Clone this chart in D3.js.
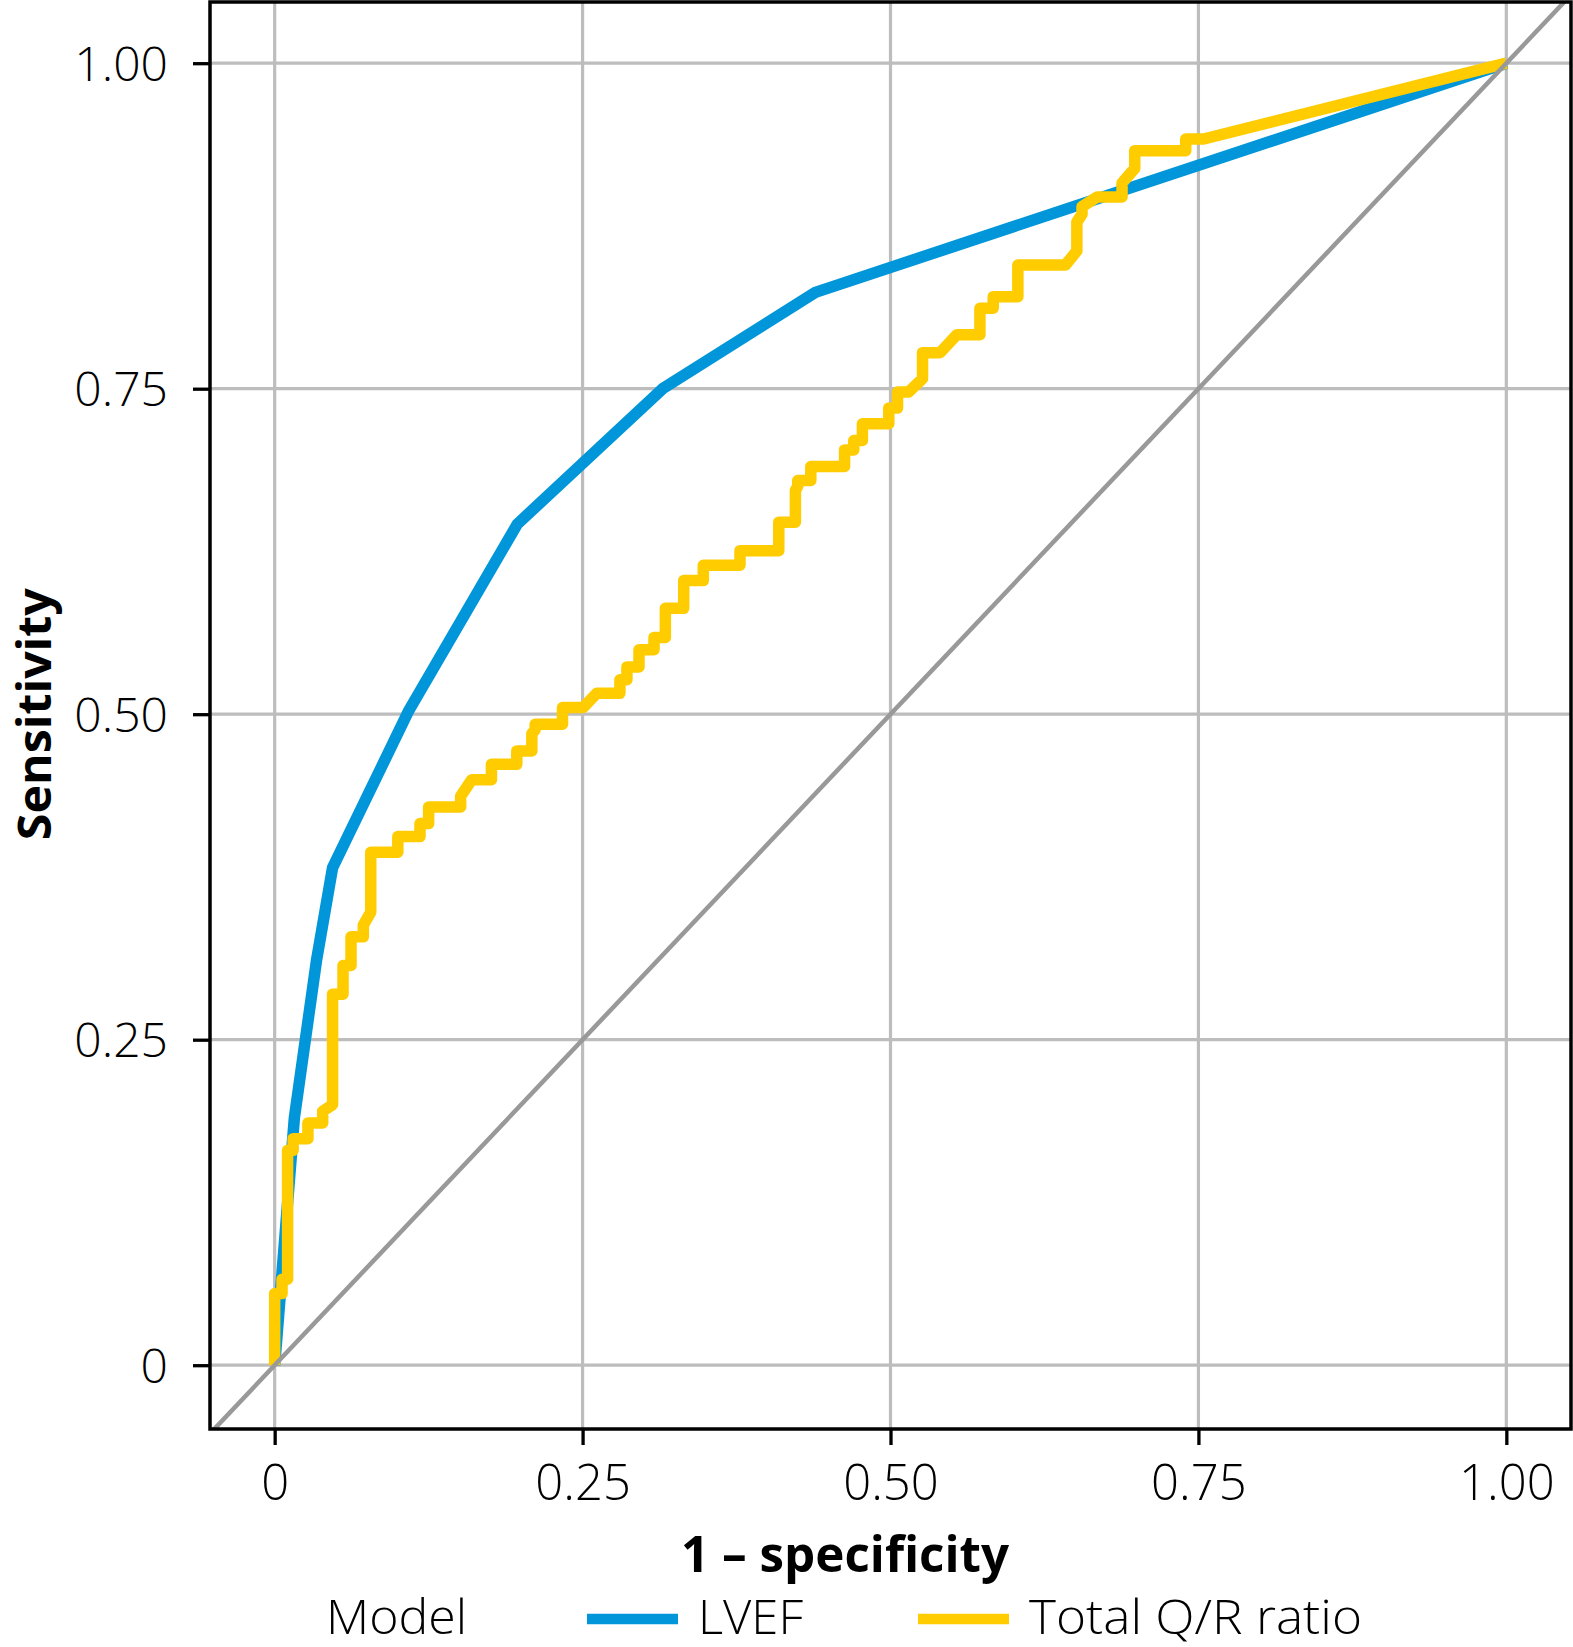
<!DOCTYPE html>
<html>
<head>
<meta charset="utf-8">
<script src="https://cdn.jsdelivr.net/npm/d3@7"></script>
<style>
  html, body { margin: 0; padding: 0; background: #ffffff; }
  svg { display: block; }
</style>
</head>
<body>
<svg id="chart" width="1573" height="1647"></svg>
<script>
// ---------------- DATA ----------------
const xTickValues = [0, 0.25, 0.5, 0.75, 1];
const xTickLabels = ["0", "0.25", "0.50", "0.75", "1.00"];
const yTickValues = [0, 0.25, 0.5, 0.75, 1];
const yTickLabels = ["0", "0.25", "0.50", "0.75", "1.00"];

const xTitle = "1 \u2013 specificity";
const yTitle = "Sensitivity";
const legendTitle = "Model";
const modelNames = ["LVEF", "Total Q/R ratio"];
const modelColors = ["#0096d9", "#ffcc00"];

// LVEF ROC curve (1 - specificity, sensitivity)
const lvefFpr = [0, 0.016, 0.034, 0.047, 0.109, 0.197, 0.315, 0.439, 1];
const lvefTpr = [0, 0.190, 0.311, 0.382, 0.503, 0.646, 0.750, 0.824, 1];

// Total Q/R ratio ROC curve (1 - specificity, sensitivity)
const qrFpr = [
  0, 0, 0.006, 0.006, 0.0105, 0.0105, 0.015, 0.015, 0.027, 0.027,
  0.039, 0.039, 0.047, 0.047, 0.0555, 0.0555, 0.062, 0.062, 0.072, 0.072,
  0.078, 0.078, 0.100, 0.100, 0.118, 0.118, 0.125, 0.125, 0.151, 0.151,
  0.160, 0.176, 0.176, 0.1966, 0.1966, 0.2088, 0.2088, 0.2115, 0.2115, 0.2337,
  0.2337, 0.2505, 0.2614, 0.2803, 0.2803, 0.286, 0.286, 0.2958, 0.2958, 0.308,
  0.308, 0.3172, 0.3172, 0.3321, 0.3321, 0.348, 0.348, 0.3778, 0.3778, 0.4093,
  0.4093, 0.4228, 0.4228, 0.4247, 0.4247, 0.4353, 0.4353, 0.4627, 0.4627, 0.4702,
  0.4702, 0.4772, 0.4772, 0.4986, 0.4986, 0.5057, 0.5057, 0.5146, 0.526, 0.526,
  0.5403, 0.5539, 0.5726, 0.5726, 0.5834, 0.5834, 0.6034, 0.6034, 0.642, 0.6513,
  0.6513, 0.6555, 0.6555, 0.6677, 0.688, 0.688, 0.6983, 0.6983, 0.7397, 0.7397,
  0.7543, 1
];
const qrTpr = [
  0, 0.055, 0.055, 0.066, 0.066, 0.165, 0.165, 0.174, 0.174, 0.186,
  0.186, 0.195, 0.200, 0.285, 0.285, 0.307, 0.307, 0.329, 0.329, 0.338,
  0.348, 0.394, 0.394, 0.406, 0.406, 0.416, 0.416, 0.4287, 0.4287, 0.437,
  0.4497, 0.4497, 0.4615, 0.4615, 0.4718, 0.4718, 0.485, 0.488, 0.4923, 0.4923,
  0.5051, 0.5051, 0.516, 0.516, 0.5265, 0.5265, 0.5363, 0.5363, 0.5495, 0.5495,
  0.559, 0.559, 0.5813, 0.5813, 0.6026, 0.6026, 0.6144, 0.6144, 0.6256, 0.6256,
  0.6475, 0.6475, 0.672, 0.675, 0.6795, 0.6795, 0.6902, 0.6902, 0.703, 0.703,
  0.7102, 0.7102, 0.7231, 0.7231, 0.7351, 0.7351, 0.7474, 0.7474, 0.7577, 0.7777,
  0.7777, 0.7915, 0.7915, 0.8118, 0.8118, 0.8207, 0.8207, 0.8450, 0.8450, 0.8558,
  0.878, 0.884, 0.8898, 0.8972, 0.8972, 0.908, 0.9192, 0.9328, 0.9328, 0.9418,
  0.9418, 1
];

// ---------------- LAYOUT ----------------
const panel = { left: 210, right: 1571, top: 2, bottom: 1429 };
const fontFamily = "'Open Sans', 'Noto Sans', 'Lato', sans-serif";

const x = d3.scaleLinear().domain([-0.0525, 1.0525]).range([panel.left, panel.right]);
const y = d3.scaleLinear().domain([-0.049, 1.047]).range([panel.bottom, panel.top]);

const svg = d3.select("#chart");

svg.append("defs").append("clipPath").attr("id", "panelClip")
  .append("rect")
  .attr("x", panel.left).attr("y", panel.top)
  .attr("width", panel.right - panel.left).attr("height", panel.bottom - panel.top);

// background
svg.append("rect").attr("x", 0).attr("y", 0).attr("width", 1573).attr("height", 1647).attr("fill", "#ffffff");

// gridlines
const grid = svg.append("g").attr("clip-path", "url(#panelClip)");
grid.selectAll("line.vgrid").data(xTickValues).join("line")
  .attr("class", "vgrid")
  .attr("x1", d => x(d)).attr("x2", d => x(d))
  .attr("y1", panel.top).attr("y2", panel.bottom)
  .attr("stroke", "#bdbdbd").attr("stroke-width", 3.2);
grid.selectAll("line.hgrid").data(yTickValues).join("line")
  .attr("class", "hgrid")
  .attr("y1", d => y(d)).attr("y2", d => y(d))
  .attr("x1", panel.left).attr("x2", panel.right)
  .attr("stroke", "#bdbdbd").attr("stroke-width", 3.2);

// curves
const plotG = svg.append("g").attr("clip-path", "url(#panelClip)");
const line = d3.line().x(d => x(d[0])).y(d => y(d[1]));

const lvefPts = lvefFpr.map((v, i) => [v, lvefTpr[i]]);
const qrPts = qrFpr.map((v, i) => [v, qrTpr[i]]);

plotG.append("path").datum(lvefPts)
  .attr("d", line)
  .attr("fill", "none")
  .attr("stroke", modelColors[0])
  .attr("stroke-width", 11.5)
  .attr("stroke-linejoin", "round");

plotG.append("path").datum(qrPts)
  .attr("d", line)
  .attr("fill", "none")
  .attr("stroke", modelColors[1])
  .attr("stroke-width", 11.5)
  .attr("stroke-linejoin", "round");

// reference diagonal
plotG.append("line")
  .attr("x1", x(-0.1)).attr("y1", y(-0.1))
  .attr("x2", x(1.1)).attr("y2", y(1.1))
  .attr("stroke", "#999999").attr("stroke-width", 4.5);

// panel border
svg.append("rect")
  .attr("x", panel.left).attr("y", panel.top)
  .attr("width", panel.right - panel.left).attr("height", panel.bottom - panel.top)
  .attr("fill", "none").attr("stroke", "#000000").attr("stroke-width", 3.5);

// axes
const xAxis = d3.axisBottom(x)
  .tickValues(xTickValues)
  .tickFormat((d, i) => xTickLabels[i])
  .tickSize(16).tickPadding(20);
const gx = svg.append("g").attr("transform", `translate(0,${panel.bottom})`).call(xAxis);
gx.select(".domain").remove();
gx.selectAll(".tick line").attr("stroke", "#000").attr("stroke-width", 3.3);
gx.selectAll(".tick text")
  .attr("fill", "#000")
  .attr("font-family", fontFamily)
  .attr("font-weight", 300)
  .attr("font-size", 49);

const yAxis = d3.axisLeft(y)
  .tickValues(yTickValues)
  .tickFormat((d, i) => yTickLabels[i])
  .tickSize(17).tickPadding(25);
const gy = svg.append("g").attr("transform", `translate(${panel.left},0)`).call(yAxis);
gy.select(".domain").remove();
gy.selectAll(".tick line").attr("stroke", "#000").attr("stroke-width", 3.3);
gy.selectAll(".tick text")
  .attr("fill", "#000")
  .attr("font-family", fontFamily)
  .attr("font-weight", 300)
  .attr("font-size", 48)
  .attr("dy", "0.36em");

// axis titles
svg.append("text")
  .attr("x", 845).attr("y", 1572)
  .attr("text-anchor", "middle")
  .attr("font-family", fontFamily)
  .attr("font-weight", 700)
  .attr("font-size", 50)
  .attr("textLength", 328)
  .attr("lengthAdjust", "spacingAndGlyphs")
  .attr("fill", "#000")
  .text(xTitle);

svg.append("text")
  .attr("transform", `translate(51,${y(0.5)}) rotate(-90)`)
  .attr("text-anchor", "middle")
  .attr("font-family", fontFamily)
  .attr("font-weight", 700)
  .attr("font-size", 47)
  .attr("textLength", 252)
  .attr("lengthAdjust", "spacingAndGlyphs")
  .attr("fill", "#000")
  .text(yTitle);

// legend
const legendBaseline = 1634;
const legendTitleWidth = 141;
svg.append("text")
  .attr("x", 326).attr("y", legendBaseline)
  .attr("font-family", fontFamily)
  .attr("font-weight", 300)
  .attr("font-size", 48)
  .attr("textLength", legendTitleWidth)
  .attr("lengthAdjust", "spacingAndGlyphs")
  .attr("fill", "#000")
  .text(legendTitle);

const legendKeyX = [587, 918];
const legendTextX = [698, 1029];
const legendTextW = [105, 333];
const lg = svg.append("g");
lg.selectAll("line.key").data(modelNames).join("line")
  .attr("class", "key")
  .attr("x1", (d, i) => legendKeyX[i]).attr("x2", (d, i) => legendKeyX[i] + 91)
  .attr("y1", 1619).attr("y2", 1619)
  .attr("stroke", (d, i) => modelColors[i])
  .attr("stroke-width", 10.5);
lg.selectAll("text.lab").data(modelNames).join("text")
  .attr("class", "lab")
  .attr("x", (d, i) => legendTextX[i]).attr("y", legendBaseline)
  .attr("font-family", fontFamily)
  .attr("font-weight", 300)
  .attr("font-size", 48)
  .attr("textLength", (d, i) => legendTextW[i])
  .attr("lengthAdjust", "spacingAndGlyphs")
  .attr("fill", "#000")
  .text(d => d);
</script>
</body>
</html>
